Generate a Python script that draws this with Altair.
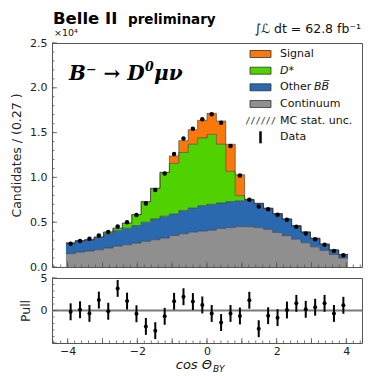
import altair as alt
import pandas as pd

# ---------------- data (units of 10^4 candidates) ----------------
BIN_LO = -4.05
BIN_W = 0.27

continuum = [0.149, 0.167, 0.178, 0.193, 0.211, 0.233, 0.249, 0.267, 0.286, 0.304,
             0.322, 0.352, 0.371, 0.389, 0.400, 0.410, 0.430, 0.440, 0.450, 0.450,
             0.440, 0.420, 0.385, 0.350, 0.310, 0.270, 0.225, 0.185, 0.140, 0.100]
other_bb = [0.118, 0.126, 0.126, 0.140, 0.160, 0.175, 0.184, 0.196, 0.214, 0.233,
            0.245, 0.241, 0.259, 0.271, 0.286, 0.290, 0.285, 0.290, 0.290, 0.298,
            0.270, 0.235, 0.210, 0.185, 0.150, 0.120, 0.095, 0.070, 0.050, 0.040]
dstar = [0.0, 0.0, 0.0, 0.0, 0.019, 0.025, 0.056, 0.122, 0.230, 0.341,
         0.489, 0.563, 0.648, 0.710, 0.754, 0.780, 0.655, 0.337, 0.057, 0.007,
         0.0, 0.0, 0.0, 0.0, 0.0, 0.0, 0.0, 0.0, 0.0, 0.0]
signal = [0.0, 0.0, 0.0, 0.0, 0.0, 0.0, 0.0, 0.0, 0.0, 0.0,
          0.0, 0.084, 0.132, 0.163, 0.197, 0.235, 0.260, 0.303, 0.233, 0.0,
          0.0, 0.0, 0.0, 0.0, 0.0, 0.0, 0.0, 0.0, 0.0, 0.0]
data_y = [0.260, 0.290, 0.315, 0.352, 0.390, 0.452, 0.500, 0.580, 0.708, 0.860,
          1.044, 1.260, 1.433, 1.544, 1.649, 1.704, 1.610, 1.350, 1.020, 0.750,
          0.674, 0.645, 0.583, 0.528, 0.448, 0.375, 0.310, 0.248, 0.180, 0.130]
pulls = [-0.2, 0.12, -0.45, 1.6, -0.12, 3.4, 1.45, -0.5, -2.45, -3.1,
         -0.9, 1.42, 2.12, 1.38, 0.85, -0.45, -1.85, -0.45, -0.85, 1.58,
         -2.8, -0.8, -1.1, 0.08, 1.1, 0.18, 0.5, 1.1, -0.45, 0.8]
pull_err = [1.3, 1.3, 1.3, 1.3, 1.3, 1.3, 1.3, 1.3, 1.3, 1.3,
            1.3, 1.3, 1.3, 1.3, 1.3, 1.3, 1.3, 1.3, 1.3, 1.3,
            1.3, 1.3, 1.3, 1.3, 1.3, 1.3, 1.3, 1.3, 1.3, 1.3]

comp_names = ["Continuum", "Other", "Dstar", "Signal"]
comp_colors = ["#8f8f8f", "#2a68b0", "#4fd200", "#f8780c"]
legend_labels = ["Signal", "D*", "Other", "Continuum", "MC stat. unc.", "Data"]

y_major = [0.0, 0.5, 1.0, 1.5, 2.0, 2.5]
x_major = [-4, -3, -2, -1, 0, 1, 2, 3, 4]
pull_major = [-5, 0, 5]

FONT = "DejaVu Sans"
W, H, HP = 310, 224, 65
XDOM = [-4.45, 4.45]

n = len(continuum)
edges = [BIN_LO + BIN_W * k for k in range(n + 1)]
centers = [BIN_LO + BIN_W * (i + 0.5) for i in range(n)]

rows = []
base = [0.0] * n
for name, vals in zip(comp_names, [continuum, other_bb, dstar, signal]):
    upper = [b + v for b, v in zip(base, vals)]
    for k in range(n + 1):
        j = min(k, n - 1)
        rows.append(dict(comp=name, x=edges[k], lo=base[j], hi=upper[j]))
    base = upper
stack_df = pd.DataFrame(rows)

pts_df = pd.DataFrame(dict(x=centers, y=data_y))
pull_df = pd.DataFrame(dict(x=centers, p=pulls, lo=[p - e for p, e in zip(pulls, pull_err)],
                            hi=[p + e for p, e in zip(pulls, pull_err)]))

xs = alt.Scale(domain=XDOM, nice=False, zero=False)
ys = alt.Scale(domain=[0, 2.5], nice=False)
ps = alt.Scale(domain=[-5, 5], nice=False)

ymin_vals = [round(0.1 * i, 2) for i in range(26)]
xmin_vals = [round(-4.4 + 0.2 * i, 2) for i in range(45)]
pmin_vals = list(range(-5, 6))

one = pd.DataFrame({"a": [0]})

# ---------------- main panel ----------------
layers = []
for name, col in zip(comp_names, comp_colors):
    layers.append(
        alt.Chart(stack_df[stack_df.comp == name]).mark_area(
            interpolate="step-after", color=col, opacity=1
        ).encode(
            x=alt.X("x:Q", scale=xs, axis=None),
            y=alt.Y("hi:Q", scale=ys),
            y2="lo:Q",
        )
    )
outline = alt.Chart(stack_df).mark_line(
    interpolate="step-after", color="#333333", strokeWidth=0.7, opacity=0.8
).encode(x=alt.X("x:Q", scale=xs, axis=None), y=alt.Y("hi:Q", scale=ys), detail="comp:N")

points = alt.Chart(pts_df).mark_circle(size=20, color="black", opacity=1).encode(
    x=alt.X("x:Q", scale=xs, axis=None),
    y=alt.Y("y:Q", scale=ys, axis=alt.Axis(values=y_major, format=".1f",
                                            title="Candidates / (0.27 )", titlePadding=6)),
)

ytick_df = pd.DataFrame({"v": ymin_vals})
ytick_df["major"] = [abs(v * 2 - round(v * 2)) < 1e-6 for v in ymin_vals]
ytk_min = alt.Chart(ytick_df).mark_rule(color="#555", strokeWidth=0.8).encode(
    y=alt.Y("v:Q", scale=ys), x=alt.value(0), x2=alt.value(2.5))
ytk_maj = alt.Chart(ytick_df[ytick_df.major]).mark_rule(color="#555", strokeWidth=0.8).encode(
    y=alt.Y("v:Q", scale=ys), x=alt.value(0), x2=alt.value(5))

xtick_df = pd.DataFrame({"v": xmin_vals})
xmaj_df = pd.DataFrame({"v": x_major})
xtk_min = alt.Chart(xtick_df).mark_rule(color="#555", strokeWidth=0.8).encode(
    x=alt.X("v:Q", scale=xs), y=alt.value(H), y2=alt.value(H - 2.5))
xtk_maj = alt.Chart(xmaj_df).mark_rule(color="#555", strokeWidth=0.8).encode(
    x=alt.X("v:Q", scale=xs), y=alt.value(H), y2=alt.value(H - 5))


def txt(s, x, y, size=11, align="left", baseline="alphabetic", weight="normal",
        style="normal", font=FONT, color="#111"):
    return alt.Chart(one).mark_text(
        text=s, align=align, baseline=baseline, fontSize=size, fontWeight=weight,
        fontStyle=style, font=font, color=color
    ).encode(x=alt.value(x), y=alt.value(y))


SERIF = "DejaVu Serif"
texts = [
    txt("Belle II", 1, -19, size=16.5, weight="bold", color="#000"),
    txt("preliminary", 76, -19, size=13.5, weight="bold", color="#000"),
    txt("×10⁴", 2, -7, size=9.5),
    txt("∫ℒ dt = 62.8 fb⁻¹", W - 1, -10, size=12.5, align="right"),
    txt("B⁻ → D", 17, 37, size=20, weight="bold", style="italic", font=SERIF, color="#000"),
    txt("0", 93, 28, size=12.5, weight="bold", style="italic", font=SERIF, color="#000"),
    txt("μν", 102, 37, size=20, weight="bold", style="italic", font=SERIF, color="#000"),
]

leg_y = [11, 27.7, 44.3, 61, 77.7, 94.3]
swatches = []
for i, col in enumerate([comp_colors[3], comp_colors[2], comp_colors[1], comp_colors[0]]):
    swatches.append(
        alt.Chart(one).mark_rect(color=col, stroke="#333", strokeWidth=0.8).encode(
            x=alt.value(198), x2=alt.value(219), y=alt.value(leg_y[i] - 3.5), y2=alt.value(leg_y[i] + 3.5))
    )
legend_txt = [
    txt(legend_labels[0], 228, leg_y[0], baseline="middle"),
    txt(legend_labels[1], 228, leg_y[1], baseline="middle", style="italic"),
    txt(legend_labels[2], 228, leg_y[2], baseline="middle"),
    txt("BB\u0305", 262, leg_y[2], baseline="middle", style="italic"),
    txt(legend_labels[3], 228, leg_y[3], baseline="middle"),
    txt(legend_labels[4], 228, leg_y[4], baseline="middle"),
    txt(legend_labels[5], 228, leg_y[5], baseline="middle"),
    txt("//////", 208.5, leg_y[4] + 0.5, size=8.5, align="center", baseline="middle",
        font="DejaVu Sans Mono", weight="bold", color="#444"),
]
data_sym = alt.Chart(one).mark_rule(color="black", strokeWidth=2.5).encode(
    x=alt.value(208.5), y=alt.value(leg_y[5] - 6), y2=alt.value(leg_y[5] + 6))

main = alt.layer(*layers, outline, points, ytk_min, ytk_maj, xtk_min, xtk_maj,
                 *texts, *swatches, *legend_txt, data_sym).properties(width=W, height=H)

# ---------------- pull panel ----------------
zero_line = alt.Chart(pd.DataFrame({"z": [0]})).mark_rule(color="#7a7a7a", strokeWidth=2).encode(
    y=alt.Y("z:Q", scale=ps))
err = alt.Chart(pull_df).mark_rule(color="black", strokeWidth=2).encode(
    x=alt.X("x:Q", scale=xs), y=alt.Y("lo:Q", scale=ps), y2="hi:Q")
ppts = alt.Chart(pull_df).mark_circle(size=16, color="black", opacity=1).encode(
    x=alt.X("x:Q", scale=xs, axis=alt.Axis(values=x_major, format="d", title=None, labelPadding=2)),
    y=alt.Y("p:Q", scale=ps, axis=alt.Axis(values=[0, 5], format="d", title="Pull",
                                           titlePadding=8, labelPadding=5)),
)
pt_df = pd.DataFrame({"v": pmin_vals})
pt_min = alt.Chart(pt_df).mark_rule(color="#555", strokeWidth=0.8).encode(
    y=alt.Y("v:Q", scale=ps), x=alt.value(0), x2=alt.value(2.5))
pt_maj = alt.Chart(pd.DataFrame({"v": pull_major})).mark_rule(color="#555", strokeWidth=0.8).encode(
    y=alt.Y("v:Q", scale=ps), x=alt.value(0), x2=alt.value(5))
pxt_min = alt.Chart(xtick_df).mark_rule(color="#555", strokeWidth=0.8).encode(
    x=alt.X("v:Q", scale=xs), y=alt.value(HP), y2=alt.value(HP - 2.5))
pxt_maj = alt.Chart(xmaj_df).mark_rule(color="#555", strokeWidth=0.8).encode(
    x=alt.X("v:Q", scale=xs), y=alt.value(HP), y2=alt.value(HP - 5))
xt1 = txt("cos Θ", 160, 91, size=13, align="right", style="italic")
xt2 = txt("BY", 161, 94, size=9, style="italic")

pull = alt.layer(zero_line, err, ppts, pt_min, pt_maj, pxt_min, pxt_maj, xt1, xt2).properties(
    width=W, height=HP)

chart = alt.vconcat(main, pull, spacing=11, bounds="flush").properties(
    padding={"left": 10, "top": 10, "right": 0, "bottom": 0}
).configure_view(stroke="#555", strokeWidth=1).configure_axis(
    ticks=False, domain=False, grid=False, labelFont=FONT, labelFontSize=11,
    labelColor="#222", titleFont=FONT, titleFontSize=12.5, titleFontWeight="normal",
    titleColor="#222", labelPadding=5
)

chart.save("out.html", embed_options={"renderer": "svg", "actions": False})
